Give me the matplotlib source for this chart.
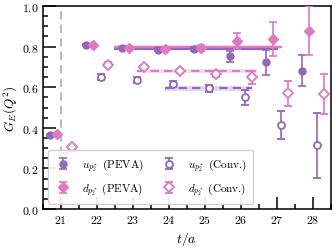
import numpy as np
import matplotlib
matplotlib.use("Agg")
import matplotlib.pyplot as plt

plt.rcParams['font.family'] = 'serif'
plt.rcParams['font.serif'] = ['cmr10', 'DejaVu Serif']
plt.rcParams['mathtext.fontset'] = 'cm'
plt.rcParams['axes.formatter.use_mathtext'] = True

t = np.array([21, 22, 23, 24, 25, 26, 27, 28])

u_peva = [0.365, 0.809, 0.793, 0.785, 0.788, 0.752, 0.722, 0.681]
u_peva_err = [0.006, 0.006, 0.006, 0.008, 0.010, 0.028, 0.060, 0.076]
d_peva = [0.370, 0.806, 0.795, 0.787, 0.792, 0.829, 0.837, 0.878]
d_peva_err = [0.006, 0.006, 0.007, 0.010, 0.015, 0.040, 0.084, 0.120]
u_conv = [0.255, 0.649, 0.635, 0.616, 0.594, 0.550, 0.414, 0.315]
u_conv_err = [0.020, 0.015, 0.015, 0.015, 0.018, 0.035, 0.070, 0.160]
d_conv = [0.307, 0.711, 0.698, 0.681, 0.665, 0.649, 0.570, 0.567]
d_conv_err = [0.010, 0.012, 0.010, 0.010, 0.015, 0.033, 0.062, 0.100]

offsets = [-0.3, -0.1, 0.1, 0.3]

# fits: (value, err, t_start, t_end)
fit_u_peva = (0.790, 0.006, 22.5, 27.0)
fit_d_peva = (0.796, 0.010, 22.5, 27.1)
fit_u_conv = (0.594, 0.012, 23.9, 26.3)
fit_d_conv = (0.681, 0.010, 23.1, 26.45)

purple = '#9467bd'
pink = '#e377c2'

fig = plt.figure(figsize=(3.35, 2.51), dpi=100)
ax = fig.add_axes([0.128, 0.163, 0.86, 0.809])

ax.axvline(21.0, color='#bbbbbb', ls=(0, (4, 2.5)), lw=1.5, zorder=0)

def band(fit, color, ls):
    v, e, a, b = fit
    ax.fill_between([a, b], [v - e] * 2, [v + e] * 2, color=color, alpha=0.25, lw=0, zorder=1)
    ax.plot([a, b], [v, v], color=color, ls=ls, lw=1.5, zorder=2)

band(fit_d_peva, pink, '-')
band(fit_u_peva, purple, '-')
band(fit_d_conv, pink, (0, (4, 2.5)))
band(fit_u_conv, purple, (0, (4, 2.5)))

ekw = dict(ls='none', capsize=3, elinewidth=1.2, capthick=1.2, zorder=3)
ax.errorbar(t + offsets[0], u_peva, yerr=u_peva_err, color=purple, marker='o', ms=5,
            label=r'$u_{p_2^*}$ (PEVA)', **ekw)
ax.errorbar(t + offsets[1], d_peva, yerr=d_peva_err, color=pink, marker='D', ms=5.5,
            label=r'$d_{p_2^*}$ (PEVA)', **ekw)
ax.errorbar(t + offsets[2], u_conv, yerr=u_conv_err, color=purple, marker='o', ms=5,
            mfc='white', mew=1.3, label=r'$u_{p_2^*}$ (Conv.)', **ekw)
ax.errorbar(t + offsets[3], d_conv, yerr=d_conv_err, color=pink, marker='D', ms=5.5,
            mfc='white', mew=1.3, label=r'$d_{p_2^*}$ (Conv.)', **ekw)

ax.set_xlim(20.5, 28.5)
ax.set_ylim(0.0, 1.0)
ax.set_xticks(t)
ax.set_xticks(np.arange(20.5, 28.6, 0.5), minor=True)
ax.set_yticks([0.0, 0.2, 0.4, 0.6, 0.8, 1.0])
ax.set_yticks(np.arange(0, 1.001, 0.05), minor=True)
ax.tick_params(which='both', direction='in', width=1.1, labelsize=8.5, pad=3)
ax.tick_params(which='major', length=9)
ax.tick_params(which='minor', length=3.5)
for s in ax.spines.values():
    s.set_linewidth(1.1)

ax.set_xlabel(r'$t/a$', fontsize=10, labelpad=3)
ax.set_ylabel(r'$G_E(Q^2)$', fontsize=9.5, labelpad=1)

ax.legend(loc='lower left', ncol=2, fontsize=8, frameon=True, framealpha=0.9,
          edgecolor='#cccccc', handlelength=1.4, handletextpad=1.0,
          columnspacing=1.6, labelspacing=0.6, borderpad=0.6)

fig.savefig('out.png', dpi=100)
